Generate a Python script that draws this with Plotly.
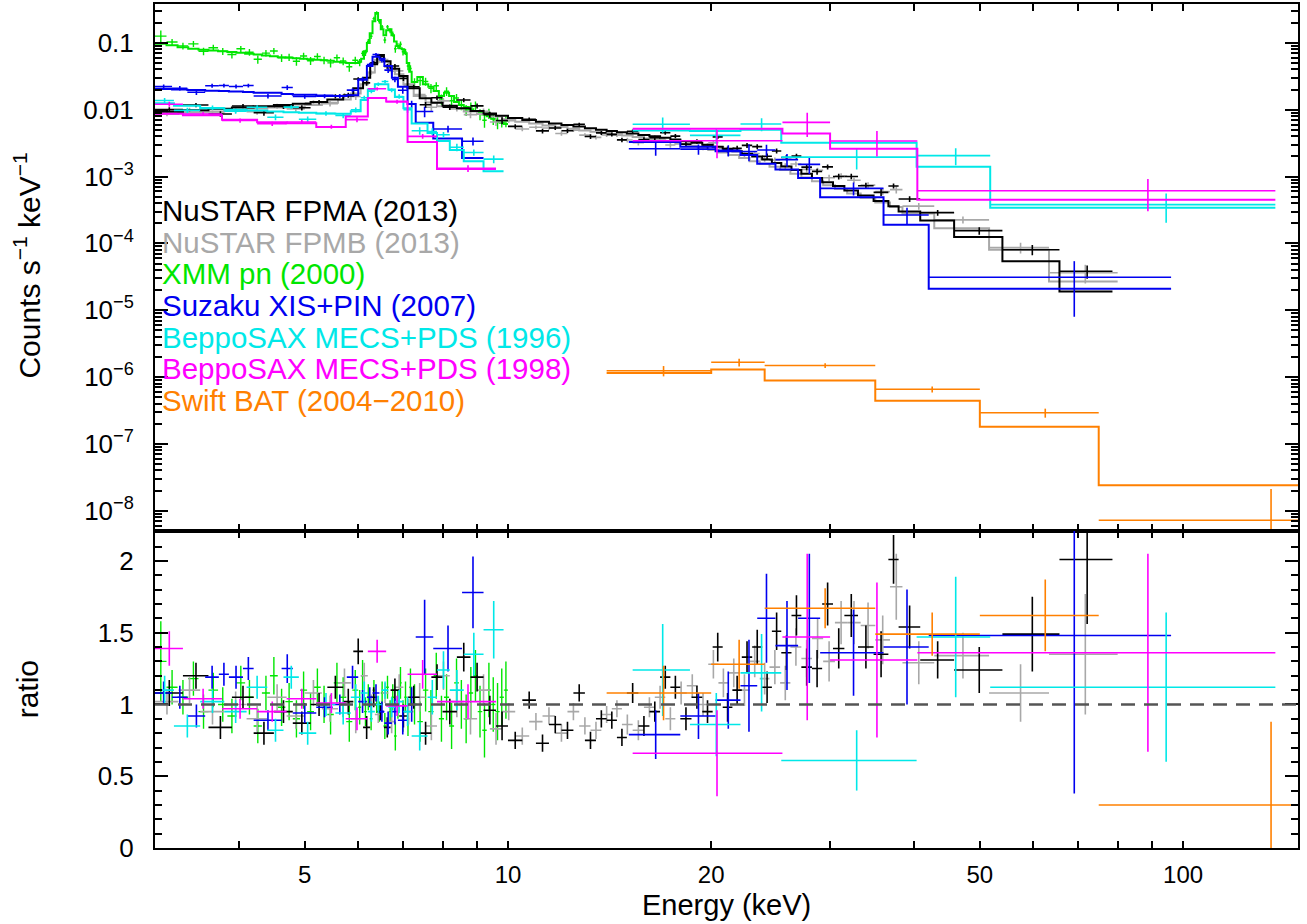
import math
import plotly.graph_objects as go
from plotly.subplots import make_subplots

# ---------------- data ----------------
# NuSTAR FPMA (2013)
fpma_edges = [3.0,3.3,3.6,3.9,4.2,4.5,4.8,5.1,5.4,5.7,5.9,6.1,6.25,6.4,6.55,6.7,6.9,7.1,7.4,7.7,8.0,8.4,8.8,9.2,9.6,10.0,10.5,11.0,11.5,12.0,12.5,13.0,13.5,14.0,14.5,15.0,15.6,16.2,16.8,17.4,18.0,18.7,19.4,20.1,20.8,21.5,22.2,23.0,23.8,24.6,25.4,26.3,27.2,28.2,29.2,30.3,31.5,33.0,34.8,36.6,37.9,40.8,45.8,54.0,65.6,78.6]
fpma_model = [0.0093,0.0098,0.0103,0.0108,0.0113,0.0118,0.0123,0.013,0.0142,0.0162,
              0.021,0.030,0.048,0.066,0.053,0.041,0.032,0.021,0.0148,0.0127,
              0.0115,0.0105,0.0096,0.0088,0.0081,
              0.0075,0.0070,0.0066,0.0062,0.0059,0.0056,0.0053,0.0050,0.0048,0.0046,
              0.0044,0.0042,0.0040,0.0038,0.0036,0.0034,0.0032,0.0030,
              0.0028,0.0026,0.0024,0.0022,0.0020,0.0018,0.0016,
              0.00142,0.00125,0.0011,0.00095,0.00082,0.00072,0.00062,0.00052,0.00043,
              0.00036,0.0003,0.00022,0.000125,0.000054,0.000019]
fpma_ratio = [1.08,1.20,0.84,1.05,0.80,0.95,0.87,1.00,1.12,1.02,
              1.37,0.84,1.05,0.95,0.84,1.10,0.92,1.05,0.80,1.19,
              0.95,1.33,1.19,0.96,0.85,
              0.75,1.03,0.73,0.86,0.82,1.08,0.75,0.90,0.89,0.77,
              1.08,0.85,0.95,1.19,1.12,0.90,1.05,0.95,
              1.40,0.98,1.10,1.33,1.40,1.12,1.51,
              1.36,1.62,1.26,1.25,1.70,1.39,1.62,1.40,1.35,
              2.01,1.54,1.31,1.24,1.49,2.01]
fpma_rerr = [0.09,0.09,0.08,0.08,0.08,0.08,0.08,0.08,0.08,0.09,
             0.09,0.08,0.07,0.06,0.07,0.08,0.08,0.08,0.08,0.09,
             0.09,0.10,0.10,0.10,0.10,
             0.06,0.06,0.06,0.06,0.06,0.06,0.06,0.06,0.06,0.06,
             0.07,0.07,0.07,0.08,0.08,0.08,0.08,0.08,
             0.10,0.10,0.10,0.11,0.12,0.11,0.13,
             0.12,0.14,0.13,0.13,0.15,0.14,0.15,0.15,0.16,
             0.17,0.15,0.13,0.16,0.26,0.45]

# NuSTAR FPMB (2013)
fpmb_edges = [3.0,3.25,3.5,3.8,4.1,4.4,4.7,5.0,5.3,5.6,5.85,6.05,6.2,6.35,6.5,6.65,6.8,7.0,7.25,7.55,7.85,8.2,8.6,9.0,9.4,9.8,10.25,10.75,11.25,11.75,12.25,12.75,13.25,13.75,14.25,14.75,15.3,15.9,16.5,17.1,17.7,18.4,19.1,19.8,20.5,21.2,22.0,22.8,23.6,24.4,25.3,26.2,27.2,28.2,29.3,30.5,31.8,33.3,35.0,36.8,38.4,42.8,51.6,63.3,80.0]
fpmb_model = [0.0086,0.009,0.0094,0.0099,0.0104,0.0108,0.0112,0.0118,0.0127,0.0142,
              0.0175,0.024,0.036,0.056,0.052,0.043,0.034,0.024,0.016,0.0128,
              0.0113,0.0103,0.0094,0.0086,0.0079,
              0.0072,0.0066,0.0062,0.0058,0.0055,0.0052,0.0049,0.0047,0.0045,0.0043,
              0.0041,0.0039,0.0037,0.0035,0.0033,0.0031,0.0029,0.0027,
              0.0025,0.0023,0.0021,0.0019,0.0017,0.00155,0.0014,
              0.00125,0.0011,0.00097,0.00085,0.00074,0.00065,0.00056,0.00048,0.00041,
              0.00035,0.00028,0.000168,0.00008,0.000027]
fpmb_ratio = [1.02,1.10,0.95,1.00,0.90,1.05,0.92,1.08,0.97,1.15,
              0.90,1.20,1.00,0.93,1.08,0.88,1.12,0.95,1.05,0.85,
              1.20,1.02,0.90,1.10,0.83,
              0.95,0.78,0.88,0.92,0.80,0.95,0.85,0.82,0.93,0.97,
              0.86,0.82,0.98,1.05,0.90,1.08,1.13,1.00,
              1.28,1.15,1.22,1.10,1.30,1.18,1.26,
              1.15,1.40,1.32,1.46,1.30,1.57,1.57,1.55,1.45,
              1.82,1.29,1.34,1.08,1.35]
fpmb_rerr = [0.09,0.09,0.09,0.09,0.09,0.09,0.09,0.09,0.09,0.10,
             0.10,0.09,0.07,0.06,0.07,0.08,0.09,0.09,0.10,0.10,
             0.10,0.11,0.11,0.11,0.11,
             0.06,0.06,0.06,0.06,0.06,0.06,0.06,0.06,0.06,0.06,
             0.07,0.07,0.07,0.08,0.08,0.08,0.08,0.08,
             0.10,0.10,0.10,0.11,0.11,0.11,0.12,
             0.12,0.13,0.13,0.14,0.14,0.15,0.15,0.16,0.17,
             0.23,0.15,0.16,0.20,0.42]

# XMM pn (2000)
xmm_edges = [3.0,3.12,3.24,3.36,3.48,3.6,3.72,3.84,3.96,4.08,4.2,4.32,4.44,4.56,4.68,4.8,4.92,5.04,5.16,5.28,5.4,5.52,5.64,5.76,5.88,6.0,
             6.06,6.12,6.18,6.24,6.3,6.36,6.42,6.48,6.54,6.6,6.66,6.72,6.78,6.84,6.9,6.96,7.02,7.08,7.14,7.2,
             7.34,7.48,7.62,7.76,7.9,8.04,8.18,8.32,8.46,8.6,8.74,8.88,9.02,9.16,9.3,9.44,9.58,9.72,9.86,10.0]
xmm_model = [0.097,0.092,0.086,0.082,0.079,0.077,0.075,0.073,0.071,0.069,0.067,0.065,0.063,0.061,0.060,0.059,0.058,0.057,0.056,0.055,0.054,0.052,0.051,0.050,0.050,
             0.052,0.058,0.075,0.10,0.14,0.21,0.28,0.22,0.16,0.13,0.155,0.16,0.13,0.105,0.09,0.083,0.08,0.07,0.05,0.037,
             0.026,0.031,0.024,0.022,0.019,0.016,0.018,0.016,0.013,0.0118,0.011,0.0102,0.0096,0.009,0.0085,0.008,0.0073,0.0068,0.0064,0.0061]
xmm_ratio = [1.30,1.12,1.05,1.18,0.95,1.10,1.00,0.92,1.15,1.05,0.85,1.08,1.20,0.98,1.02,0.90,1.10,0.95,1.12,1.00,0.93,1.15,1.05,0.88,1.10,
             0.98,1.20,0.95,1.05,0.90,1.10,1.00,0.95,1.08,0.85,1.12,0.95,1.05,0.78,1.00,1.15,0.92,1.05,0.90,1.12,
             1.00,0.88,1.10,0.95,1.20,0.90,1.05,0.85,1.15,1.00,0.90,1.08,1.20,0.95,0.82,1.10,1.00,0.95,1.05,1.10]
xmm_rerr = [0.28,0.12,0.12,0.12,0.12,0.12,0.12,0.12,0.12,0.12,0.12,0.12,0.13,0.13,0.13,0.13,0.13,0.13,0.13,0.13,0.14,0.14,0.14,0.14,0.14,
            0.12,0.11,0.10,0.09,0.08,0.07,0.06,0.07,0.08,0.09,0.08,0.08,0.09,0.10,0.10,0.11,0.11,0.11,0.12,0.13,
            0.14,0.14,0.15,0.15,0.16,0.16,0.16,0.16,0.17,0.17,0.17,0.18,0.18,0.18,0.19,0.19,0.19,0.20,0.20,0.20]

# Suzaku XIS + PIN (2007)
xis_edges = [3.0,3.18,3.35,3.56,3.73,3.86,4.05,4.2,4.62,4.8,5.2,5.5,5.77,6.0,6.18,6.3,6.45,6.56,6.73,6.87,7.1,7.3,7.75,8.55,9.2]
xis_model = [0.0205,0.020,0.0198,0.0192,0.019,0.0187,0.0184,0.018,0.0172,0.0168,0.0163,0.016,0.0165,0.028,0.045,0.062,0.058,0.045,0.030,0.022,0.0122,0.0064,0.0037,0.0019]
xis_ratio = [1.08,1.05,0.92,1.19,1.21,1.19,1.25,0.89,1.25,0.94,0.98,1.00,1.19,1.02,1.05,1.08,0.95,0.87,0.95,0.89,1.00,1.47,1.39,1.78]
xis_rerr = [0.08,0.08,0.08,0.08,0.08,0.08,0.08,0.07,0.10,0.07,0.07,0.07,0.08,0.08,0.07,0.06,0.07,0.08,0.09,0.10,0.12,0.26,0.16,0.25]
pin_edges = [15.1,18.0,20.3,22.1,23.4,24.9,26.9,29.0,36.0,42.0,96.0]
pin_model = [0.0033,0.0028,0.0024,0.0021,0.00156,0.00127,0.00095,0.00049,0.00019,0.000021]
pin_ratio = [0.79,0.92,1.03,1.13,1.60,1.41,1.60,1.36,1.40,1.48]
pin_rerr = [0.17,0.16,0.20,0.32,0.31,0.31,0.45,0.30,0.40,1.10]

# BeppoSAX MECS + PDS (1996)
c96m_edges = [3.0,3.2,3.5,3.8,4.1,4.4,4.65,4.9,5.2,5.55,5.85,6.05,6.2,6.35,6.5,6.65,6.8,7.0,7.2,7.6,7.85,8.2,8.6,9.2,9.85]
c96m_model = [0.0125,0.0115,0.0105,0.0100,0.0097,0.0094,0.0092,0.0090,0.0088,0.0087,0.0095,0.014,0.020,0.024,0.024,0.020,0.0155,0.0105,0.0062,0.0045,0.0034,0.0025,0.0017,0.0012]
c96m_ratio = [1.10,0.85,1.02,0.95,1.12,0.82,1.19,0.80,1.00,0.94,1.05,1.08,0.95,1.00,1.10,0.98,1.02,0.95,0.78,1.05,1.24,1.10,1.35,1.52]
c96m_rerr = [0.10,0.08,0.08,0.08,0.08,0.08,0.08,0.08,0.08,0.08,0.09,0.08,0.07,0.06,0.06,0.07,0.08,0.10,0.10,0.12,0.13,0.14,0.15,0.20]
c96p_edges = [15.3,18.6,22.1,25.4,40.3,51.8,137.0]
c96p_model = [0.0049,0.0048,0.0050,0.0032,0.0014,0.00034]
c96p_ratio = [1.24,0.86,1.22,0.61,1.47,1.12]
c96p_rerr = [0.32,0.22,0.27,0.21,0.42,0.52]

# BeppoSAX MECS + PDS (1998)
m98m_edges = [3.0,3.3,3.77,4.25,4.7,5.2,5.75,6.2,6.6,7.1,7.85,9.6]
m98m_model = [0.0087,0.0083,0.0071,0.0065,0.0063,0.0055,0.0079,0.015,0.0133,0.0033,0.0013]
m98m_ratio = [1.39,1.04,0.97,0.95,1.04,1.01,0.90,1.37,0.99,1.21,1.02]
m98m_rerr = [0.12,0.07,0.07,0.07,0.07,0.07,0.08,0.08,0.07,0.10,0.12]
m98p_edges = [15.3,25.5,30.0,40.4,137.0]
m98p_model = [0.0052,0.0044,0.0026,0.00045]
m98p_ratio = [0.66,1.47,1.31,1.36]
m98p_rerr = [0.30,0.58,0.54,0.69]

# Swift BAT (2004-2010)
bat_edges = [14.0,20.0,24.0,35.0,50.0,75.0,195.0]
bat_model = [1.15e-6,1.3e-6,8.9e-7,4.4e-7,1.8e-7,2.4e-8]
bat_ratio = [1.08,1.28,1.67,1.49,1.62,0.30]
bat_rerr = [0.19,0.17,0.14,0.15,0.25,0.58]

legend_labels = ["NuSTAR FPMA (2013)", "NuSTAR FPMB (2013)", "XMM pn (2000)",
                 "Suzaku XIS+PIN (2007)", "BeppoSAX MECS+PDS (1996)",
                 "BeppoSAX MECS+PDS (1998)", "Swift BAT (2004\u22122010)"]

# ---------------- styling ----------------
C_BLACK = "#000000"
C_GRAY = "#a8a8a8"
C_GREEN = "#00e600"
C_BLUE = "#0000f0"
C_CYAN = "#00e8e8"
C_MAGENTA = "#ff00ff"
C_ORANGE = "#ff8000"
legend_colors = [C_BLACK, C_GRAY, C_GREEN, C_BLUE, C_CYAN, C_MAGENTA, C_ORANGE]

SANS = "Liberation Sans, Arial, sans-serif"

fig = make_subplots(rows=2, cols=1, shared_xaxes=True, vertical_spacing=0,
                    row_heights=[528, 318])


def add_set(edges, model, ratio, rerr, color, lw=2.0, ew=1.6):
    lo = edges[:-1]
    hi = edges[1:]
    xc = [(a + b) / 2 for a, b in zip(lo, hi)]
    xm = [c - a for c, a in zip(xc, lo)]
    xp = [b - c for b, c in zip(hi, xc)]
    data = [m * r for m, r in zip(model, ratio)]
    derr = [m * e for m, e in zip(model, rerr)]
    dminus = [min(e, 0.9999 * d) for e, d in zip(derr, data)]
    rminus = [min(e, r + 0.5) for e, r in zip(rerr, ratio)]
    fig.add_trace(go.Scatter(x=list(edges), y=list(model) + [model[-1]], mode="lines",
                             line=dict(color=color, width=lw, shape="hv"),
                             hoverinfo="skip", showlegend=False), row=1, col=1)
    ex = dict(type="data", symmetric=False, array=xp, arrayminus=xm,
              width=0, thickness=ew, color=color)
    fig.add_trace(go.Scatter(x=xc, y=data, mode="markers",
                             marker=dict(size=1, color=color),
                             error_x=ex,
                             error_y=dict(type="data", symmetric=False, array=derr,
                                          arrayminus=dminus, width=0, thickness=ew, color=color),
                             showlegend=False), row=1, col=1)
    fig.add_trace(go.Scatter(x=xc, y=ratio, mode="markers",
                             marker=dict(size=1, color=color),
                             error_x=ex,
                             error_y=dict(type="data", symmetric=False, array=rerr,
                                          arrayminus=rminus, width=0, thickness=ew, color=color),
                             showlegend=False), row=2, col=1)


add_set(xmm_edges, xmm_model, xmm_ratio, xmm_rerr, C_GREEN, ew=1.4)
add_set(fpmb_edges, fpmb_model, fpmb_ratio, fpmb_rerr, C_GRAY)
add_set(fpma_edges, fpma_model, fpma_ratio, fpma_rerr, C_BLACK)
add_set(xis_edges, xis_model, xis_ratio, xis_rerr, C_BLUE)
add_set(pin_edges, pin_model, pin_ratio, pin_rerr, C_BLUE)
add_set(c96m_edges, c96m_model, c96m_ratio, c96m_rerr, C_CYAN)
add_set(c96p_edges, c96p_model, c96p_ratio, c96p_rerr, C_CYAN)
add_set(m98m_edges, m98m_model, m98m_ratio, m98m_rerr, C_MAGENTA)
add_set(m98p_edges, m98p_model, m98p_ratio, m98p_rerr, C_MAGENTA)
add_set(bat_edges, bat_model, bat_ratio, bat_rerr, C_ORANGE)

# ratio = 1 reference line
fig.add_hline(y=1, line=dict(color="#555555", width=2.5, dash="14px,9px"),
              layer="above", row=2, col=1)

# ---------------- axes ----------------
axis_common = dict(showline=True, linecolor="black", linewidth=2, mirror="allticks",
                   ticks="inside", tickcolor="black", tickwidth=1.5,
                   showgrid=False, zeroline=False)

x_range = [math.log10(3.0), math.log10(148.0)]
x_major = [5, 10, 20, 50, 100]
x_minor = [3, 4, 6, 7, 8, 9, 30, 40, 60, 70, 80, 90]
x_long = [10, 100]
for r in (1, 2):
    fig.update_xaxes(type="log", range=x_range, tickmode="array", tickvals=x_major,
                     ticktext=[str(v) for v in x_major], ticklen=7,
                     showticklabels=(r == 2),
                     tickfont=dict(family=SANS, size=24, color="black"),
                     ticklabelstandoff=4,
                     minor=dict(tickmode="array", tickvals=x_minor, ticklen=7, ticks="inside",
                                tickcolor="black", tickwidth=1.5, showgrid=False),
                     row=r, col=1, **axis_common)

# extra overlay axes carrying only the longer ticks at 10 and 100
long_tick_axis = dict(type="log", range=x_range, tickmode="array", tickvals=x_long,
                      ticks="inside", ticklen=13, tickwidth=1.5, tickcolor="black",
                      showticklabels=False, showline=False, showgrid=False, zeroline=False)
fig.update_layout(
    xaxis3=dict(overlaying="x", anchor="y", side="bottom", **long_tick_axis),
    xaxis4=dict(overlaying="x", anchor="y", side="top", **long_tick_axis),
    xaxis5=dict(overlaying="x2", anchor="y2", side="bottom", **long_tick_axis),
    xaxis6=dict(overlaying="x2", anchor="y2", side="top", **long_tick_axis),
)

y_major = [1e-8, 1e-7, 1e-6, 1e-5, 1e-4, 1e-3, 0.01, 0.1]
y_text = ["10<sup>\u22128</sup>", "10<sup>\u22127</sup>", "10<sup>\u22126</sup>",
          "10<sup>\u22125</sup>", "10<sup>\u22124</sup>", "10<sup>\u22123</sup>", "0.01", "0.1"]
y_minor = [k * 10.0 ** e for e in range(-9, 0) for k in range(2, 10)]
fig.update_yaxes(type="log", range=[-8.30, -0.418], tickmode="array", tickvals=y_major,
                 ticktext=y_text, ticklen=13,
                 tickfont=dict(family=SANS, size=26, color="black"), ticklabelstandoff=14,
                 minor=dict(tickmode="array", tickvals=y_minor, ticklen=7, ticks="inside",
                            tickcolor="black", tickwidth=1.5, showgrid=False),
                 row=1, col=1, **axis_common)
fig.update_yaxes(range=[0, 2.21], tickmode="array", tickvals=[0, 0.5, 1, 1.5, 2],
                 ticktext=["0", "0.5", "1", "1.5", "2"], ticklen=13,
                 tickfont=dict(family=SANS, size=26, color="black"), ticklabelstandoff=14,
                 minor=dict(tick0=0, dtick=0.1, ticklen=7, ticks="inside",
                            tickcolor="black", tickwidth=1.5, showgrid=False),
                 row=2, col=1, **axis_common)

# ---------------- text ----------------
annotations = []
leg_y = [0.755, 0.718, 0.681, 0.643, 0.605, 0.568, 0.530]
for txt, col, yy in zip(legend_labels, legend_colors, leg_y):
    annotations.append(dict(text=txt, x=0.004, y=yy, xref="paper", yref="paper",
                            xanchor="left", yanchor="middle", showarrow=False,
                            font=dict(family=SANS, size=29.5, color=col)))
annotations.append(dict(text="Counts s<sup>\u22121</sup> keV<sup>\u22121</sup>",
                        x=-0.112, y=0.69, xref="paper", yref="paper", textangle=-90,
                        xanchor="center", yanchor="middle", showarrow=False,
                        font=dict(family=SANS, size=30, color="black")))
annotations.append(dict(text="ratio", x=-0.112, y=0.188, xref="paper", yref="paper",
                        textangle=-90, xanchor="center", yanchor="middle", showarrow=False,
                        font=dict(family=SANS, size=30, color="black")))
annotations.append(dict(text="Energy (keV)", x=0.5, y=-0.068, xref="paper", yref="paper",
                        xanchor="center", yanchor="middle", showarrow=False,
                        font=dict(family=SANS, size=29, color="black")))

fig.update_layout(width=1307, height=924, margin=dict(l=155, r=9, t=2, b=76),
                  paper_bgcolor="white", plot_bgcolor="white", showlegend=False,
                  font=dict(family=SANS, color="black"), annotations=annotations)

fig.write_html("out.html")
